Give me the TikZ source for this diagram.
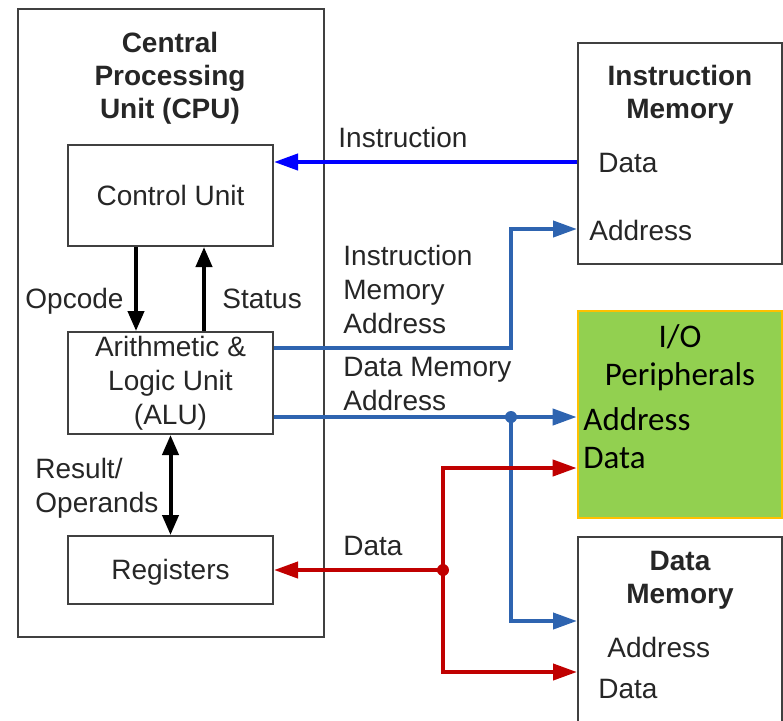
\documentclass[tikz,border=0pt]{standalone}
\usepackage{fontspec}
\setmainfont{Liberation Sans}
\newfontfamily\iofont{Carlito}
\usetikzlibrary{arrows.meta}

\definecolor{boxgray}{RGB}{64,64,64}
\definecolor{txtgray}{RGB}{38,38,38}
\definecolor{insblue}{RGB}{0,0,255}
\definecolor{addrblue}{RGB}{46,100,176}
\definecolor{datared}{RGB}{192,0,0}
\definecolor{iogreen}{RGB}{146,208,80}
\definecolor{ioorange}{RGB}{255,192,0}

\tikzset{
  box/.style={draw=boxgray, line width=1pt, minimum width=102.5pt, inner sep=0pt},
  lbl/.style={inner sep=0pt, text=txtgray, font=\fontsize{14}{17}\selectfont},
  ttl/.style={lbl, font=\fontsize{14}{16.5}\selectfont\bfseries, align=center},
  iolbl/.style={inner sep=0pt, font=\iofont\fontsize{16.5}{19}\selectfont},
  ctrl/.style={line width=2pt, -{Triangle[length=10pt,width=8pt]}},
  ibus/.style={insblue, line width=2pt, -{Triangle[length=12pt,width=8pt]}},
  abus/.style={addrblue, line width=2pt, -{Triangle[length=12pt,width=8pt]}},
  dbus/.style={datared, line width=2pt, -{Triangle[length=12pt,width=8pt]}},
}

\begin{document}
\begin{tikzpicture}[x=0.5pt, y=-0.5pt]
        \useasboundingbox (0,0) rectangle (783,720);

        % CPU
        \node[box, minimum width=153pt, minimum height=314pt] (cpu) at (171,323) {};
        \node[ttl, anchor=base] (cputitle) at (170,118) {Central\\Processing\\Unit (CPU)};
        \node[box, lbl, minimum height=50.5pt] (cu) at (170.5,195.5) {Control Unit};
        \node[box, lbl, align=center, minimum height=51pt, text depth=3pt] (alu) at (170.5,383) {Arithmetic \&\\Logic Unit\\(ALU)};
        \node[box, lbl, minimum height=34pt, text depth=1pt] (reg) at (170.5,570) {Registers};

        \node[lbl, anchor=base west] (oplbl) at (25,308) {Opcode};
        \node[lbl, anchor=base west] (stlbl) at (222,308) {Status};
        \node[lbl, anchor=base west, align=left] (reslbl) at (35,512) {Result/\\Operands};

        % Instruction memory
        \node[box, minimum width=102pt, minimum height=110.5pt] (imem) at (680,153.5) {};
        \node[ttl, anchor=base] (imtitle) at (680,118) {Instruction\\Memory};
        \node[lbl, anchor=base west] (imdata) at (598,172) {Data};
        \node[lbl, anchor=base west] (imaddr) at (589,240) {Address};

        % I/O peripherals
        \node[box, draw=ioorange, line width=1.3pt, fill=iogreen, minimum width=102pt, minimum height=103.5pt] (io) at (680,414.5) {};
        \node[iolbl, anchor=base, align=center] (iotitle) at (680,385) {I/O\\Peripherals};
        \node[iolbl, anchor=base west] (ioaddr) at (583,430) {Address};
        \node[iolbl, anchor=base west] (iodata) at (583,468) {Data};

        % Data memory
        \node[box, minimum width=102pt, minimum height=101.5pt] (dmem) at (680,638.5) {};
        \node[ttl, anchor=base] (dmtitle) at (680,603) {Data\\Memory};
        \node[lbl, anchor=base west] (dmaddr) at (607,657) {Address};
        \node[lbl, anchor=base west] (dmdata) at (598,698) {Data};

        % bus labels
        \node[lbl, anchor=base west] (inslbl) at (338,147) {Instruction};
        \node[lbl, anchor=base west, align=left] (imalbl) at (343,333) {Instruction\\Memory\\Address};
        \node[lbl, anchor=base west, align=left] (dmalbl) at (343,410) {Data Memory\\Address};
        \node[lbl, anchor=base west] (datalbl) at (343,555) {Data};

        % ports and junctions
        \coordinate (imd) at (imem.west |- 0,162);
        \coordinate (ima) at (imem.west |- 0,229);
        \coordinate (ioa) at (io.west |- 0,417);
        \coordinate (iod) at (io.west |- 0,468);
        \coordinate (dma) at (dmem.west |- 0,621);
        \coordinate (dmd) at (dmem.west |- 0,672);
        \coordinate (alui) at (alu.east |- 0,348);
        \coordinate (alud) at (alu.east |- 0,417);
        \coordinate (aj) at (511,417);
        \coordinate (dj) at (443,570);

        \draw[ctrl] ([xshift=34.5pt]cu.south west) -- ([xshift=34.5pt]alu.north west);
        \draw[ctrl] ([xshift=68.5pt]alu.north west) -- ([xshift=68.5pt]cu.south west);
        \draw[ctrl, {Triangle[length=10pt,width=8pt]}-{Triangle[length=10pt,width=8pt]}] (alu.south) -- (reg.north);

        \draw[ibus] (imd) -- (cu.east |- imd);
        \draw[abus] (alui) -| (aj |- ima) -- (ima);
        \draw[abus] (alud) -- (ioa);
        \draw[abus] (aj) |- (dma);
        \fill[addrblue] (aj) circle (3pt);

        \draw[dbus] (dj) -- (reg.east |- dj);
        \draw[dbus] (dj) |- (iod);
        \draw[dbus] (dj) |- (dmd);
        \fill[datared] (dj) circle (3pt);
    \end{tikzpicture}
\end{document}
